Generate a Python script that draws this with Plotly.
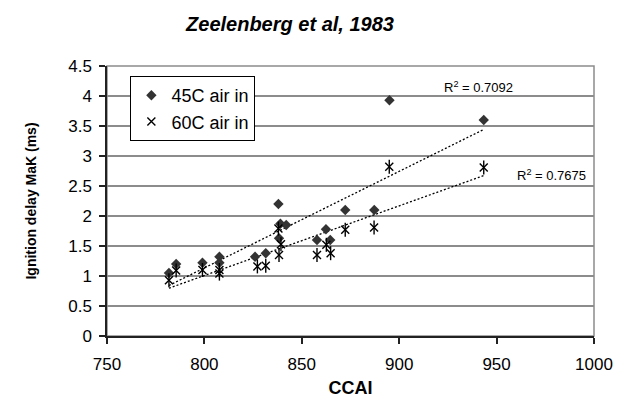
import numpy as np
import plotly.graph_objects as go

# Ignition delay vs CCAI, Zeelenberg et al (1983)
ccai_45 = [781.8, 785.5, 799.0, 807.7, 807.7, 826.0, 831.5, 838.0, 839.0, 842.0,
           838.3, 857.8, 862.4, 864.6, 872.3, 887.2, 895.0, 943.4]
delay_45 = [1.05, 1.20, 1.22, 1.32, 1.22, 1.32, 1.38, 2.20, 1.87, 1.85,
            1.63, 1.60, 1.78, 1.60, 2.10, 2.10, 3.93, 3.60]

ccai_60 = [781.8, 785.5, 799.0, 807.7, 807.7, 827.2, 831.5, 838.3, 839.3, 838.0,
           857.8, 862.6, 864.8, 872.3, 887.1, 894.9, 943.4]
delay_60 = [0.93, 1.09, 1.10, 1.04, 1.10, 1.16, 1.17, 1.35, 1.53, 1.79,
            1.35, 1.52, 1.38, 1.77, 1.81, 2.82, 2.81]

r2_labels = ["R<sup>2</sup> = 0.7092", "R<sup>2</sup> = 0.7675"]
series_names = ["45C air in", "60C air in"]

FONT = "Liberation Sans, Arial, sans-serif"
INK = "#000000"
AXIS = "#222222"
GRID = "#8c8c8c"

fig = go.Figure()


def trend(xs, ys):
    xs = np.asarray(xs, float)
    ys = np.asarray(ys, float)
    slope, icpt = np.polyfit(xs, ys, 1)
    xl = np.array([xs.min(), xs.max()])
    return xl, slope * xl + icpt


# dotted linear trendlines
for xs, ys in ((ccai_45, delay_45), (ccai_60, delay_60)):
    tx, ty = trend(xs, ys)
    fig.add_trace(go.Scatter(
        x=tx, y=ty, mode="lines", showlegend=False, hoverinfo="skip",
        line=dict(color=INK, width=1.3, dash="2px,2px"),
    ))

# 45C: filled diamonds
fig.add_trace(go.Scatter(
    x=ccai_45, y=delay_45, mode="markers", name=series_names[0],
    marker=dict(symbol="diamond", size=8, color="#333333",
                line=dict(width=0)),
))

# 60C: star marker built from an X and a vertical bar
fig.add_trace(go.Scatter(
    x=ccai_60, y=delay_60, mode="markers", name=series_names[1],
    marker=dict(symbol="x-thin-open", size=8, color=INK,
                line=dict(width=1.4, color=INK)),
))
fig.add_trace(go.Scatter(
    x=ccai_60, y=delay_60, mode="markers", showlegend=False,
    marker=dict(symbol="line-ns-open", size=10, color=INK,
                line=dict(width=1.4, color=INK)),
))

# R-squared labels
fig.add_annotation(x=940.8, y=4.15, text=r2_labels[0], showarrow=False,
                   font=dict(family=FONT, size=13, color=INK))
fig.add_annotation(x=978.3, y=2.68, text=r2_labels[1], showarrow=False,
                   font=dict(family=FONT, size=13, color=INK))

# gray plot-area frame (top and right)
fig.add_shape(type="rect", xref="paper", yref="paper", x0=0, y0=0, x1=1, y1=1,
              line=dict(color=GRID, width=1.5), layer="below")

fig.update_layout(
    width=625, height=412,
    margin=dict(l=107, r=28, t=66, b=76),
    paper_bgcolor="white", plot_bgcolor="white",
    font=dict(family=FONT, color=INK, size=17),
    title=dict(
        text="<b><i>Zeelenberg et al, 1983</i></b>",
        font=dict(family=FONT, size=20, color=INK),
        x=290 / 625, xref="container", xanchor="center",
        y=1 - 24 / 412, yref="container", yanchor="middle",
    ),
    showlegend=True,
    legend=dict(
        x=0.048, y=0.963, xanchor="left", yanchor="top",
        bgcolor="white", bordercolor=INK, borderwidth=1,
        font=dict(family=FONT, size=18, color=INK),
        itemwidth=30, tracegroupgap=6, traceorder="normal",
    ),
)

fig.update_xaxes(
    range=[750, 1000], tick0=750, dtick=50,
    showgrid=False, zeroline=False,
    showline=True, linecolor=AXIS, linewidth=1.5,
    ticks="outside", ticklen=6, tickcolor=AXIS, tickwidth=1.5,
    ticklabelstandoff=6,
    tickfont=dict(family=FONT, size=17, color=INK),
    title=dict(text="<b>CCAI</b>", font=dict(family=FONT, size=18, color=INK),
               standoff=8),
)
fig.update_yaxes(
    range=[0, 4.5], tick0=0, dtick=0.5,
    showgrid=True, gridcolor=GRID, gridwidth=1.5, zeroline=False,
    showline=True, linecolor=AXIS, linewidth=1.5,
    ticks="outside", ticklen=6, tickcolor=AXIS, tickwidth=1.5,
    ticklabelstandoff=4,
    tickfont=dict(family=FONT, size=17, color=INK),
    title=dict(text="<b>Ignition delay MaK (ms)</b>",
               font=dict(family=FONT, size=14, color=INK), standoff=28),
)

fig.write_html("out.html")
